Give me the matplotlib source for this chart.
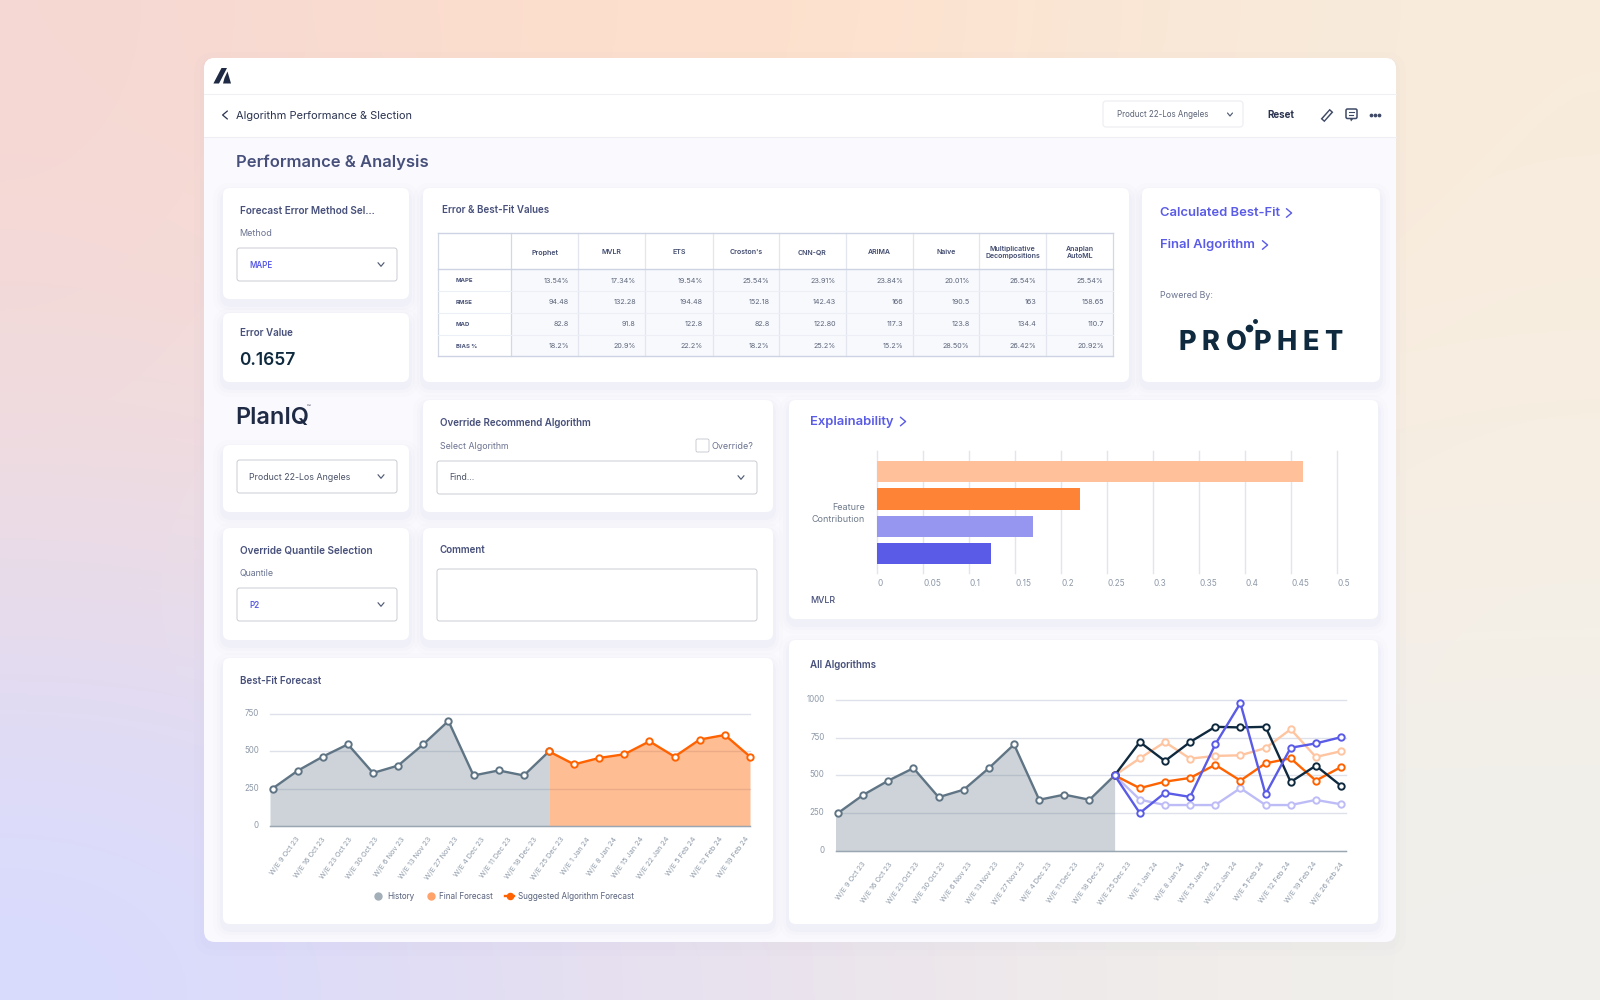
import matplotlib
matplotlib.use("Agg")
import matplotlib.pyplot as plt
import numpy as np
from matplotlib.lines import Line2D
from matplotlib.patches import FancyBboxPatch, Polygon, Rectangle
from matplotlib.transforms import ScaledTranslation

plt.rcParams['font.family'] = ['Inter', 'DejaVu Sans']

# --- data

algorithms = ["Prophet", "MVLR", "ETS", "Croston's", "CNN-QR", "ARIMA", "Naive",
              "Multiplicative\nDecompositions", "Anaplan\nAutoML"]
metrics = ["MAPE", "RMSE", "MAD", "BIAS %"]
mape = ["13.54%", "17.34%", "19.54%", "25.54%", "23.91%", "23.84%", "20.01%", "26.54%", "25.54%"]
rmse = ["94.48", "132.28", "194.48", "152.18", "142.43", "166", "190.5", "163", "158.65"]
mad = ["82.8", "91.8", "122.8", "82.8", "122.80", "117.3", "123.8", "134.4", "110.7"]
bias = ["18.2%", "20.9%", "22.2%", "18.2%", "25.2%", "15.2%", "28.50%", "26.42%", "20.92%"]

history = [250, 370, 465, 548, 355, 405, 548, 705, 338, 372, 338, 500]
final_forecast = [500, 413, 456, 481, 568, 465, 580, 611, 465]
weeks_best = ["W/E 9 Oct 23", "W/E 16 Oct 23", "W/E 23 Oct 23", "W/E 30 Oct 23", "W/E 6 Nov 23",
              "W/E 13 Nov 23", "W/E 27 Nov 23", "W/E 4 Dec 23", "W/E 11 Dec 23", "W/E 18 Dec 23",
              "W/E 25 Dec 23", "W/E 1 Jan 24", "W/E 8 Jan 24", "W/E 15 Jan 24", "W/E 22 Jan 24",
              "W/E 5 Feb 24", "W/E 12 Feb 24", "W/E 19 Feb 24"]
weeks_all = weeks_best + ["W/E 26 Feb 24"]

algo_navy = [500, 721, 595, 721, 822, 818, 822, 456, 564, 431]
algo_peach = [500, 613, 721, 611, 629, 633, 681, 806, 622, 660]
algo_orange = [500, 415, 458, 483, 570, 465, 580, 613, 465, 555]
algo_lavender = [500, 339, 303, 303, 303, 415, 303, 303, 337, 308]
algo_blue = [500, 250, 384, 357, 705, 979, 375, 683, 712, 753]

contribution = [0.463, 0.2205, 0.169, 0.124]
contribution_colors = ["#FFC09A", "#FF8336", "#9696F0", "#5A5BE6"]
contribution_ticks = [0, 0.05, 0.1, 0.15, 0.2, 0.25, 0.3, 0.35, 0.4, 0.45, 0.5]

GREY = "#5F7484"
ORANGE = "#FF6200"
NAVY = "#0F2A3F"
BLUE = "#5A5BE6"
HEAD = "#47507A"
LABEL = "#6B7390"
TICK = "#8D99A8"
GRID = "#E3E5EE"


def px(size):
    return size * 0.72


fig = plt.figure(figsize=(16, 10), dpi=100)
bg = fig.add_axes([0, 0, 1, 1], zorder=0)
bg.set_xlim(0, 1600)
bg.set_ylim(1000, 0)
bg.axis("off")


def chart_axes(left, top, right, bottom):
    ax = fig.add_axes([left / 1600, 1 - bottom / 1000, (right - left) / 1600, (bottom - top) / 1000],
                      zorder=2)
    ax.patch.set_alpha(0)
    for s in ax.spines.values():
        s.set_visible(False)
    return ax


def label(x, y, s, size=9, color=LABEL, weight="normal", **kw):
    kw.setdefault("va", "center")
    bg.text(x, y, s, fontsize=px(size), color=color, fontweight=weight, zorder=6, **kw)


def rbox(x0, y0, x1, y1, r=6, fc="white", ec="none", lw=0, z=3, **kw):
    p = FancyBboxPatch((x0 + r, y0 + r), x1 - x0 - 2 * r, y1 - y0 - 2 * r,
                       boxstyle="round,pad=%g,rounding_size=%g" % (r, r),
                       fc=fc, ec=ec, lw=lw, zorder=z, **kw)
    bg.add_patch(p)
    return p


def card(x0, y0, x1, y1):
    # soft shadow then the white card
    for grow, a in [(10, 0.012), (6, 0.016), (3, 0.02)]:
        rbox(x0 - grow, y0 - grow + 5, x1 + grow, y1 + grow + 5, r=8 + grow, fc="#5A5F9A", alpha=a, z=2.5)
    rbox(x0, y0, x1, y1, r=7)


def chevron(x, y, d="down", size=3.0, color="#4F5B73", lw=0.85):
    if d == "down":
        xs, ys = [x - size, x, x + size], [y - size * 0.6, y + size * 0.6, y - size * 0.6]
    elif d == "right":
        xs, ys = [x - size * 0.6, x + size * 0.6, x - size * 0.6], [y - size, y, y + size]
    else:
        xs, ys = [x + size * 0.6, x - size * 0.6, x + size * 0.6], [y - size, y, y + size]
    bg.plot(xs, ys, color=color, lw=lw, zorder=6, solid_capstyle="round", solid_joinstyle="round")


def select(x0, y0, x1, y1, s, color="#4A5266", size=9, weight="normal"):
    rbox(x0, y0, x1, y1, r=2.5, ec="#BDC0C8", lw=0.55, z=4)
    label(x0 + 12, (y0 + y1) / 2 + 0.5, s, size=size, color=color, weight=weight)
    chevron(x1 - 16, (y0 + y1) / 2, "down")


# --- page background
corners = np.array([
    [[246, 216, 211], [253, 222, 204], [254, 224, 203], [250, 231, 214], [248, 236, 220]],
    [[238, 220, 226], [241, 224, 226], [245, 231, 226], [248, 238, 228], [247, 239, 228]],
    [[216, 219, 255], [226, 221, 243], [234, 227, 238], [240, 236, 234], [240, 240, 236]],
]) / 255
bg.imshow(corners, extent=(0, 1600, 1000, 0), interpolation="bicubic", aspect="auto", zorder=0)
bg.set_xlim(0, 1600)
bg.set_ylim(1000, 0)

# --- window
for grow, a in [(10, 0.012), (4, 0.015)]:
    rbox(204 - grow, 58 - grow + 4, 1396 + grow, 942 + grow + 4, r=12 + grow, fc="#6A6FA8", alpha=a, z=0.5)
win = rbox(204, 58, 1396, 942, r=11, fc="#F9F9FE", z=1)
top = Rectangle((204, 58), 1192, 79, fc="white", zorder=1.2)
bg.add_patch(top)
top.set_clip_path(win)
bg.plot([204, 1396], [94, 94], color="#EFF0F4", lw=0.8, zorder=1.5)
bg.plot([204, 1396], [137, 137], color="#EEEEF5", lw=0.8, zorder=1.5)

# logo
bg.add_patch(Polygon([[213.4, 83.5], [219, 83.5], [227, 68], [221.5, 68]], fc="#1F2A44", zorder=6))
bg.add_patch(Polygon([[227.5, 71.5], [231, 83.5], [223, 83.5], [224.5, 78]], fc="#1F2A44", zorder=6))

chevron(225, 115, "left", size=4, color="#2A3350", lw=0.9)
label(235.5, 116, "Algorithm Performance & Slection", size=11, color="#2A3350")
rbox(1103, 101, 1243, 127, r=3, ec="#ECEDF2", lw=0.8, z=4)
label(1117, 114.5, "Product 22-Los Angeles", size=8, color="#5A6275")
chevron(1230, 114.5, "down", size=2.5)
label(1267, 114.5, "Reset", size=9.8, color="#2A3350", weight="bold")
# edit, comment and menu icons
bg.plot([1322.5, 1331.5], [120.5, 110.5], color="#3F4A66", lw=3.6, zorder=6, solid_capstyle="butt")
bg.plot([1323.5, 1330.5], [119.5, 111.5], color="white", lw=1.5, zorder=6.5, solid_capstyle="butt")
rbox(1346, 109, 1357, 118.5, r=1.5, ec="#3F4A66", lw=1.1, z=6)
bg.add_patch(Polygon([[1350, 118.5], [1353.5, 118.5], [1351, 121.5]], fc="#3F4A66", zorder=6))
bg.plot([1349, 1354], [112, 112], color="#3F4A66", lw=0.8, zorder=7)
bg.plot([1349, 1352.5], [115, 115], color="#3F4A66", lw=0.8, zorder=7)
bg.plot([1371, 1375, 1379], [115, 115, 115], ls="none", marker="o", ms=1.7, color="#3F4A66", zorder=6)

label(235.5, 162.5, "Performance & Analysis", size=16.6, color=HEAD, weight="semibold")

# --- cards
card(223, 188, 409, 299)
card(223, 313, 409, 382)
card(423, 188, 1129, 382)
card(1142, 188, 1380, 382)
card(223, 445, 409, 512)
card(423, 400, 773, 512)
card(789, 400, 1378, 619)
card(223, 528, 409, 640)
card(423, 528, 773, 640)
card(223, 658, 773, 924)
card(789, 640, 1378, 924)

label(240, 210.5, "Forecast Error Method Sel...", size=10, color=HEAD, weight="semibold")
label(239.5, 233, "Method", size=9)
select(237, 248, 397, 281, "MAPE", color=BLUE, size=8, weight="semibold")
label(240, 333.5, "Error Value", size=9.8, color=HEAD, weight="semibold")
label(239.5, 360.5, "0.1657", size=17.3, color=NAVY, weight="semibold")

label(442, 210, "Error & Best-Fit Values", size=9.8, color=HEAD, weight="semibold")

# --- table
col_x = [438.4, 511.4, 578.4, 645.4, 712.5, 779, 845.6, 912.7, 979.2, 1046.3, 1113.3]
row_y = [233.3, 269.3, 291.3, 312.7, 334.7, 356.3]
bg.add_patch(Rectangle((col_x[1], row_y[1]), col_x[-1] - col_x[1], row_y[-1] - row_y[1],
                       fc="#F7F9FD", zorder=3.5))
for i, x in enumerate(col_x):
    edge = i in (0, 1, len(col_x) - 1)
    bg.plot([x, x], [row_y[0], row_y[-1]], color="#D3D8E5" if edge else "#E3E6EF", lw=0.9, zorder=4)
for i, y in enumerate(row_y):
    edge = i in (0, 1, len(row_y) - 1)
    bg.plot([col_x[0], col_x[-1]], [y, y], color="#CDD3E2" if edge else "#ECEFF5", lw=1 if edge else 0.8, zorder=4)
for i, name in enumerate(algorithms):
    label((col_x[i + 1] + col_x[i + 2]) / 2, 252.5, name, size=7, color="#414B6E", weight="semibold",
          ha="center", linespacing=1.25)
for r, (name, vals) in enumerate(zip(metrics, [mape, rmse, mad, bias])):
    yc = (row_y[r + 1] + row_y[r + 2]) / 2 + 0.5
    label(455.8, yc, name, size=6, color="#4A5478", weight="bold")
    for i, v in enumerate(vals):
        label(col_x[i + 2] - 9.6, yc, v, size=7.2, color="#5D6579", ha="right")

# --- right card
label(1160, 213.5, "Calculated Best-Fit", size=13, color=BLUE, weight="semibold")
chevron(1289, 213, "right", size=4.3, color=BLUE, lw=1)
label(1160, 245, "Final Algorithm", size=13, color=BLUE, weight="semibold")
chevron(1265, 245, "right", size=4.3, color=BLUE, lw=1)
label(1160, 295, "Powered By:", size=8.8)
for x, ch in zip([1187.5, 1210.5, 1236, 1262, 1287, 1311, 1333], "PROPHET"):
    label(x, 340.5, ch, size=27, color=NAVY, weight="heavy", ha="center", va="center_baseline")
bg.plot([1248.5], [328], marker="o", ms=4.5, color=NAVY, zorder=7)
bg.plot([1255], [321], marker="o", ms=2.5, color=NAVY, zorder=7)

# --- left column and override cards
label(235.5, 418, "PlanIQ", size=23.5, color="#1F2A44", weight="semibold")
label(307, 408, "™", size=6, color="#1F2A44")
select(237, 460, 397, 493, "Product 22-Los Angeles", size=8.8)
label(440, 423, "Override Recommend Algorithm", size=9.8, color=HEAD, weight="semibold")
label(440, 446.5, "Select Algorithm", size=8.8)
rbox(696, 439, 709, 452, r=1.5, ec="#BDC0C8", lw=0.55, z=4)
label(712, 446.5, "Override?", size=9)
select(437, 461, 757, 494, "Find...", size=8.8)
label(240, 550, "Override Quantile Selection", size=10, color=HEAD, weight="semibold")
label(240, 573, "Quantile", size=8.8)
select(237, 588, 397, 621, "P2", color=BLUE, size=8, weight="semibold")
label(440, 550, "Comment", size=9.8, color=HEAD, weight="semibold")
rbox(437, 569, 757, 621, r=2.5, ec="#BDC0C8", lw=0.55, z=4)

# --- explainability bars
label(810, 422, "Explainability", size=13, color=BLUE, weight="semibold")
chevron(903, 421.5, "right", size=4.3, color=BLUE, lw=1)
label(865, 507, "Feature", size=9, color="#6F7B8A", ha="right")
label(865, 519, "Contribution", size=9, color="#6F7B8A", ha="right")
label(810, 600.5, "MVLR", size=8.8, color=HEAD, weight="medium")

ax = chart_axes(877.3, 451, 1337.4, 572.7)
ax.barh([3, 2, 1, 0], contribution, height=0.78, color=contribution_colors, zorder=3)
ax.set_xlim(0, 0.5)
ax.set_ylim(-0.7, 3.75)
ax.set_yticks([])
ax.set_xticks(contribution_ticks)
ax.set_xticklabels(["%g" % t for t in contribution_ticks], fontsize=px(8.2), color=TICK)
ax.tick_params(axis="x", length=0, pad=px(6))
for t in ax.get_xticklabels():
    t.set_ha("left")
ax.grid(axis="x", color=GRID, lw=1, zorder=1)
for g in ax.get_xgridlines():
    g.set_clip_on(False)
ax.set_axisbelow(True)


def area_axis(ax, ymax, yticks):
    ax.set_ylim(0, ymax)
    ax.set_yticks(yticks)
    ax.tick_params(axis="y", length=0, pad=px(11), labelsize=px(8), labelcolor=TICK)
    up = ScaledTranslation(0, 1.5 / 100, fig.dpi_scale_trans)
    for t in ax.get_yticklabels():
        t.set_transform(t.get_transform() + up)
    ax.grid(axis="y", color="#DFE1EA", lw=1, zorder=1)
    for g in ax.get_ygridlines():
        g.set_clip_on(False)
    ax.set_axisbelow(True)
    ax.spines["bottom"].set_visible(True)
    ax.spines["bottom"].set_color("#9AA6B2")
    ax.spines["bottom"].set_linewidth(1)
    ax.tick_params(axis="x", length=0, pad=px(10))


def series(ax, x, y, color, z=4):
    ax.plot(x, y, color=color, lw=1.7, marker="o", ms=4.6, mfc="white", mec=color, mew=1.4,
            clip_on=False, zorder=z)


# --- best-fit forecast
label(240, 681.5, "Best-Fit Forecast", size=9.8, color=HEAD, weight="semibold")
ax = chart_axes(270, 714.3, 750, 825.7)
x_hist = np.arange(len(history))
x_fcst = np.arange(len(history) - 1, len(history) + len(final_forecast) - 1)
ax.fill_between(np.r_[-0.1, x_hist], np.r_[history[0], history], color=GREY, alpha=0.31, lw=0, zorder=2)
ax.fill_between(x_fcst, final_forecast, color=ORANGE, alpha=0.42, lw=0, zorder=2)
series(ax, x_hist, history, GREY)
series(ax, x_fcst, final_forecast, ORANGE, z=5)
ax.set_xlim(-0.1, 19)
area_axis(ax, 750, [0, 250, 500, 750])
ax.set_xticks(np.linspace(0.9, 18.8, len(weeks_best)))
ax.set_xticklabels(weeks_best, rotation=54, ha="right", va="top", rotation_mode="anchor",
                   fontsize=px(7.3), color=TICK)
handles = [
    Line2D([], [], ls="none", marker="o", ms=5, color="#A3AFB8"),
    Line2D([], [], ls="none", marker="o", ms=5, color="#FFA36B"),
    Line2D([], [], color=ORANGE, lw=1.7, marker="o", ms=4.4),
]
ax.legend(handles, ["History", "Final Forecast", "Suggested Algorithm Forecast"], ncol=3, frameon=False,
          loc="center", bbox_to_anchor=(504 / 1600, 1 - 896.5 / 1000), bbox_transform=fig.transFigure,
          prop={"size": px(8.1)}, labelcolor="#56607A", handlelength=1.1, handletextpad=0.5, columnspacing=1.5)

# --- all algorithms
label(810, 665, "All Algorithms", size=9.8, color=HEAD, weight="semibold")
ax = chart_axes(835.5, 700, 1346, 850.7)
x_hist = np.arange(len(history))
x_algo = np.arange(len(history) - 1, len(history) + len(algo_navy) - 1)
ax.fill_between(np.r_[-0.1, x_hist], np.r_[history[0], history], color=GREY, alpha=0.31, lw=0, zorder=2)
series(ax, x_hist, history, GREY)
series(ax, x_algo, algo_lavender, "#BDBCF7", z=4)
series(ax, x_algo, algo_peach, "#FFC4A0", z=4.2)
series(ax, x_algo, algo_orange, ORANGE, z=4.4)
series(ax, x_algo, algo_navy, NAVY, z=4.6)
series(ax, x_algo, algo_blue, BLUE, z=4.8)
ax.set_xlim(-0.1, 20.2)
area_axis(ax, 1000, [0, 250, 500, 750, 1000])
ax.set_xticks(np.linspace(0.95, 19.95, len(weeks_all)))
ax.set_xticklabels(weeks_all, rotation=54, ha="right", va="top", rotation_mode="anchor",
                   fontsize=px(7.3), color=TICK)

fig.savefig("out.png", dpi=100)
